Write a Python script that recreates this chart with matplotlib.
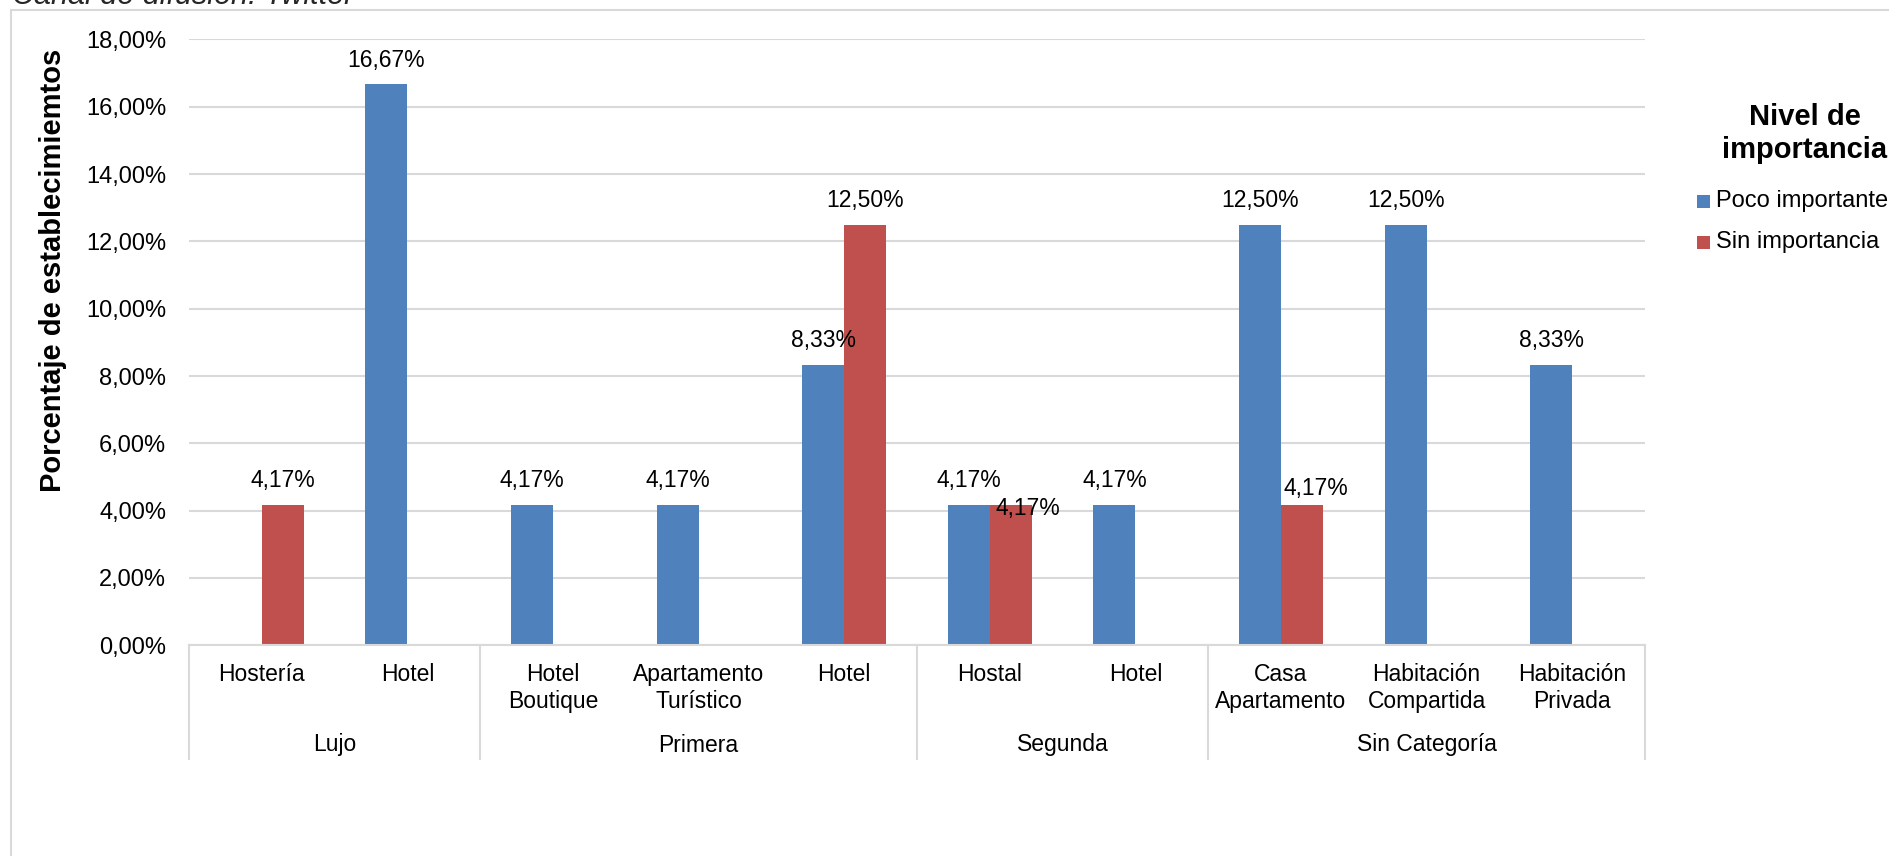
import numpy as np
import matplotlib
matplotlib.use("Agg")
import matplotlib.pyplot as plt
from matplotlib.patches import Rectangle

plt.rcParams["font.family"] = ["Liberation Sans", "DejaVu Sans"]

W, H = 1890, 856

# category axis: (sub-category, group)
subcats = ["Hostería", "Hotel", "Hotel\nBoutique", "Apartamento\nTurístico", "Hotel",
           "Hostal", "Hotel", "Casa\nApartamento", "Habitación\nCompartida", "Habitación\nPrivada"]
groups = ["Lujo", "Primera", "Segunda", "Sin Categoría"]
group_sizes = [2, 3, 2, 3]

series_names = ["Poco importante", "Sin importancia"]
poco = [np.nan, 16.67, 4.17, 4.17, 8.33, 4.17, 4.17, 12.50, 12.50, 8.33]
sin = [4.17, np.nan, np.nan, np.nan, 12.50, 4.17, np.nan, 4.17, np.nan, np.nan]
yticks = [0, 2, 4, 6, 8, 10, 12, 14, 16, 18]

BLUE = "#4F81BD"
RED = "#C0504D"
GRID = "#D9D9D9"


def fx(px):
    return px / W


def fy(py):
    return 1 - py / H


def pct(v):
    return f"{v:.2f}%".replace(".", ",")


fig = plt.figure(figsize=(W / 100, H / 100), dpi=100)
fig.patch.set_facecolor("white")

# outer chart frame (runs off the right and bottom edges)
fig.patches.append(Rectangle((fx(11), fy(900)), fx(2000), fy(10) - fy(900),
                             transform=fig.transFigure, fill=False,
                             edgecolor=GRID, linewidth=1.5))
fig.text(fx(12), fy(4), "Canal de difusión: Twitter", fontsize=22, style="italic",
         va="baseline", ha="left", color="#262626")

ax_left, ax_right, ax_top, ax_bot = 189, 1645, 39.4, 645.3
ax = fig.add_axes([fx(ax_left), fy(ax_bot), fx(ax_right - ax_left), (ax_bot - ax_top) / H])

x = np.arange(len(subcats))
bw = 0.288
b1 = ax.bar(x - bw / 2, poco, bw, color=BLUE, zorder=3, label=series_names[0])
b2 = ax.bar(x + bw / 2, sin, bw, color=RED, zorder=3, label=series_names[1])

# data labels; a couple are nudged where they collide
nudge = {(1, 5): (17, -4), (1, 7): (14, 16)}
for s, (vals, xs) in enumerate([(poco, x - bw / 2), (sin, x + bw / 2)]):
    for i, v in enumerate(vals):
        if np.isnan(v):
            continue
        dx, dy = nudge.get((s, i), (0, 24))
        ax.annotate(pct(v), (xs[i], v), xytext=(dx, dy), textcoords="offset pixels",
                    ha="center", va="center", fontsize=16.5, color="black", zorder=4)

ax.set_xlim(-0.5, len(subcats) - 0.5)
ax.set_ylim(0, 18)
ax.set_yticks(yticks)
ax.set_yticklabels([pct(t) for t in yticks])
ax.tick_params(axis="y", length=0, pad=16.5, labelsize=17)
ax.set_xticks([])
ax.grid(axis="y", color=GRID, linewidth=1.5, zorder=0)
for side in ["top", "right", "left"]:
    ax.spines[side].set_visible(False)
ax.spines["bottom"].set_color(GRID)
ax.spines["bottom"].set_linewidth(1.5)
ax.spines["bottom"].set_zorder(5)

# two-level category axis
axh = ax_bot - ax_top
trans = ax.get_xaxis_transform()
sep_bottom = -(759 - ax_bot) / axh
edges = np.concatenate([[0], np.cumsum(group_sizes)]) - 0.5
for e in edges:
    ax.plot([e, e], [0, sep_bottom], transform=trans, color=GRID, lw=1.5, clip_on=False)
for i, lab in enumerate(subcats):
    ax.text(i, -(663 - ax_bot) / axh, lab, transform=trans, ha="center", va="top",
            fontsize=16.5, multialignment="center", linespacing=1.2)
for g, lab in enumerate(groups):
    mid = (edges[g] + edges[g + 1]) / 2
    ax.text(mid, -(745 - ax_bot) / axh, lab, transform=trans, ha="center", va="center",
            fontsize=16.5)

fig.text(fx(53), fy(270), "Porcentaje de establecimiemtos", rotation=90, fontsize=21,
         fontweight="bold", ha="center", va="center")

# legend
fig.text(fx(1805), fy(117), "Nivel de", fontsize=21, fontweight="bold", ha="center", va="center")
fig.text(fx(1805), fy(150), "importancia", fontsize=21, fontweight="bold", ha="center", va="center")
for yc, col, name in [(201, BLUE, series_names[0]), (242, RED, series_names[1])]:
    fig.patches.append(Rectangle((fx(1697), fy(yc + 6.5)), fx(13), 13 / H,
                                 transform=fig.transFigure, facecolor=col, edgecolor="none"))
    fig.text(fx(1716), fy(yc), name, fontsize=17, ha="left", va="center")

fig.savefig("out.png", dpi=100, facecolor="white")
